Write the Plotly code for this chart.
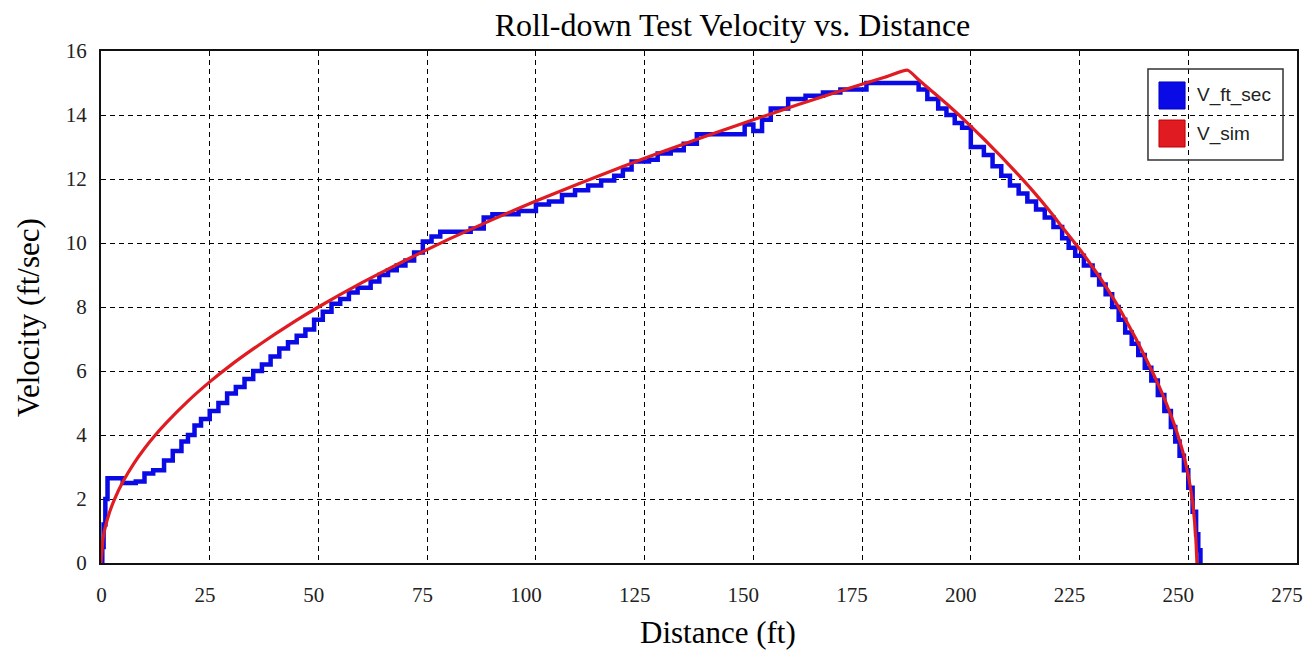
import plotly.graph_objects as go

meas_x = [0, 0.3, 0.6, 1.0, 1.5, 5, 8, 10, 12, 14.5, 16.5, 18.5, 20, 21.5, 23, 25, 27, 29, 31, 33,
          35, 37, 39, 41, 43, 45, 47, 49, 51, 53, 55, 57, 59, 62, 64, 66, 68, 70, 72, 74,
          76, 78, 82, 85, 88, 90, 96, 100, 103, 106, 109, 112, 115, 118, 120, 122, 126, 128, 131, 134,
          137, 148, 150, 152, 154, 158, 162, 166, 170, 176,
          186, 188, 190, 192.5, 194.4, 196.3, 198, 200, 203, 205, 207, 209, 211, 213, 215, 217, 219, 221, 222.5, 224,
          226, 228, 229.5, 231, 232.5, 234, 235.5, 237, 238.5, 240, 241.5, 243, 244.5, 246, 247, 248, 249, 250, 251, 251.8,
          252.3, 252.8]
meas_v = [0, 0.5, 1.2, 2.0, 2.65, 2.5, 2.55, 2.8, 2.9, 3.2, 3.5, 3.8, 4.0, 4.3, 4.5, 4.75, 5.0, 5.3, 5.5, 5.75,
          6.0, 6.2, 6.45, 6.7, 6.9, 7.1, 7.3, 7.6, 7.85, 8.1, 8.25, 8.45, 8.6, 8.8, 9.0, 9.15, 9.3, 9.45, 9.7, 10.05,
          10.2, 10.35, 10.35, 10.45, 10.8, 10.9, 11.0, 11.2, 11.3, 11.5, 11.65, 11.8, 11.95, 12.1, 12.3, 12.55, 12.6, 12.8, 12.9, 13.1,
          13.4, 13.7, 13.5, 13.85, 14.2, 14.5, 14.6, 14.7, 14.8, 15.0,
          15.0, 14.8, 14.5, 14.2, 14.0, 13.75, 13.6, 13.0, 12.75, 12.4, 12.1, 11.8, 11.55, 11.3, 11.05, 10.8, 10.5, 10.15, 9.85, 9.6,
          9.3, 9.0, 8.7, 8.4, 8.0, 7.6, 7.2, 6.85, 6.5, 6.1, 5.7, 5.25, 4.75, 4.25, 3.8, 3.35, 2.9, 2.35, 1.6, 0.9,
          0.4, 0]

# Simulated data
sim_x = [0, 0.5, 1, 2, 3, 5, 7.5, 10, 12.5, 15, 20, 25, 30, 35, 40, 45, 50, 60, 70, 80,
         90, 100, 110, 120, 130, 140, 150, 160, 170, 180, 185.5,
         188, 191, 195, 199, 203, 207, 211, 214.3, 218, 221, 224.6, 228, 231, 233.6, 236, 238, 240, 241.9, 244,
         246, 247.4, 249, 250.5, 251.2, 251.7, 252]
sim_v = [0, 0.8, 1.13, 1.6, 1.96, 2.53, 3.1, 3.58, 4.0, 4.38, 5.06, 5.66, 6.2, 6.69, 7.15, 7.59, 8.0, 8.76, 9.46, 10.12,
         10.73, 11.31, 11.86, 12.39, 12.9, 13.38, 13.85, 14.31, 14.75, 15.17, 15.4,
         15.1, 14.75, 14.28, 13.78, 13.25, 12.7, 12.12, 11.62, 11.02, 10.5, 9.88, 9.25, 8.65, 8.08, 7.5, 7.0, 6.46, 5.93, 5.3,
         4.62, 4.08, 3.35, 2.35, 1.65, 0.85, 0]

x_ticks = [0, 25, 50, 75, 100, 125, 150, 175, 200, 225, 250, 275]
y_ticks = [0, 2, 4, 6, 8, 10, 12, 14, 16]
series_names = ["V_ft_sec", "V_sim"]

BLUE = "#0a0ae6"
RED = "#e01b22"
serif = "Liberation Serif, Times New Roman, serif"
sans = "Liberation Sans, Arial, sans-serif"

# tick labels right-aligned to their gridline as in the original
NB = "\u00a0"
x_ticktext = [NB * (2 * (3 - len(str(t)))) + str(t) for t in x_ticks]

fig = go.Figure()
fig.add_trace(go.Scatter(x=meas_x, y=meas_v, mode="lines", line=dict(color=BLUE, width=4.5, shape="hv"),
                         name=series_names[0], showlegend=False))
fig.add_trace(go.Scatter(x=sim_x, y=sim_v, mode="lines", line=dict(color=RED, width=3.2, shape="spline", smoothing=0.5),
                         name=series_names[1], showlegend=False))

# Legend box (drawn to match the square swatches of the original)
shapes = [
    dict(type="rect", xref="paper", yref="paper", x0=0.8754, x1=0.9883, y0=0.7871, y1=0.9648,
         line=dict(color="#333", width=1.5), fillcolor="rgba(0,0,0,0)", layer="above"),
    dict(type="rect", xref="paper", yref="paper", x0=0.8846, x1=0.9064, y0=0.8867, y1=0.9395,
         line=dict(color="#0000c0", width=1), fillcolor=BLUE, layer="above"),
    dict(type="rect", xref="paper", yref="paper", x0=0.8846, x1=0.9064, y0=0.8125, y1=0.8652,
         line=dict(color="#c00000", width=1), fillcolor=RED, layer="above"),
]
annotations = [
    dict(text=series_names[0], xref="paper", yref="paper", x=0.9147, y=0.9141, xanchor="left", yanchor="middle",
         showarrow=False, font=dict(family=sans, size=19, color="#222")),
    dict(text=series_names[1], xref="paper", yref="paper", x=0.9147, y=0.8379, xanchor="left", yanchor="middle",
         showarrow=False, font=dict(family=sans, size=19, color="#222")),
    dict(text="Distance (ft)", xref="paper", yref="paper", x=0.5159, y=-0.1367, xanchor="center", yanchor="middle",
         showarrow=False, font=dict(family=serif, size=31, color="black")),
    dict(text="Velocity (ft/sec)", xref="paper", yref="paper", x=-0.0610, y=0.4785, xanchor="center", yanchor="middle",
         textangle=-90, showarrow=False, font=dict(family=serif, size=31, color="black")),
]

fig.update_layout(
    width=1304, height=643,
    margin=dict(l=93, r=15, t=43, b=88, autoexpand=False),
    paper_bgcolor="white", plot_bgcolor="white",
    title=dict(text="Roll-down Test Velocity vs. Distance", x=0.528, xref="paper", xanchor="center",
               y=0.9736, yref="container", yanchor="middle", font=dict(family=serif, size=32, color="black")),
    showlegend=False,
    shapes=shapes,
    annotations=annotations,
)
fig.update_xaxes(range=[0, 275], tickvals=x_ticks, ticktext=x_ticktext,
                 showgrid=True, gridcolor="black", griddash="5px,4px", gridwidth=1,
                 showline=True, linecolor="#111", linewidth=2, mirror=True, zeroline=False,
                 ticks="", ticklabelshift=-10, ticklabelstandoff=12, automargin=False,
                 tickfont=dict(family=serif, size=21, color="#222"))
fig.update_yaxes(range=[0, 16], tickvals=y_ticks, ticktext=[str(t) for t in y_ticks],
                 showgrid=True, gridcolor="black", griddash="5px,4px", gridwidth=1,
                 showline=True, linecolor="#111", linewidth=2, mirror=True, zeroline=False,
                 ticks="", ticklabelstandoff=8, automargin=False,
                 tickfont=dict(family=serif, size=21, color="#222"))

fig.write_html("out.html")
